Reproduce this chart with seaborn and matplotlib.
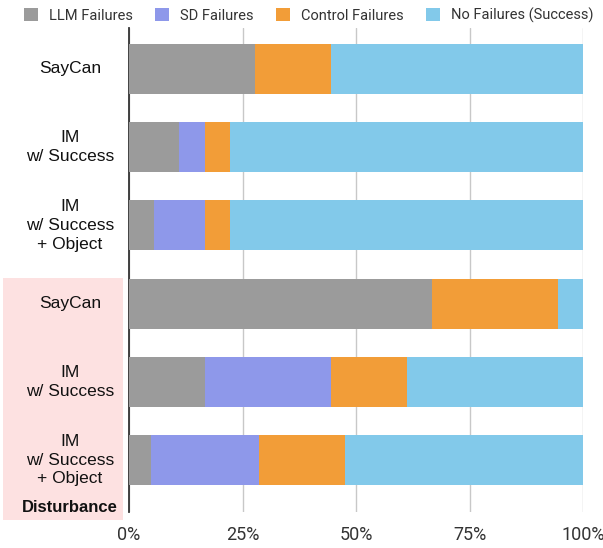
import pandas as pd
import matplotlib.pyplot as plt
import seaborn as sns
from matplotlib.patches import Rectangle, Patch
from matplotlib.ticker import PercentFormatter

methods = ["SayCan", "IM\nw/ Success", "IM\nw/ Success\n+ Object",
           "SayCan ", "IM\nw/ Success ", "IM\nw/ Success\n+ Object "]
series = ["LLM Failures", "SD Failures", "Control Failures", "No Failures (Success)"]
llm_fail = [27.8, 11.1, 5.6, 66.7, 16.7, 4.8]
sd_fail = [0.0, 5.6, 11.1, 0.0, 27.8, 23.8]
control_fail = [16.7, 5.6, 5.6, 27.8, 16.7, 19.0]
success = [55.6, 77.8, 77.8, 5.6, 38.9, 52.4]
colors = ["#9b9b9b", "#8e98ea", "#f29d38", "#82c9ea"]

df = pd.DataFrame({"method": methods, series[0]: llm_fail, series[1]: sd_fail,
                   series[2]: control_fail, series[3]: success})
cum = df[series].cumsum(axis=1)
cum["method"] = df["method"]

sns.set_style("white")
plt.rcParams['font.family'] = ['Roboto', 'DejaVu Sans']
label_font = ["Liberation Sans", "DejaVu Sans"]

fig = plt.figure(figsize=(6.03, 5.48), dpi=100)
fig.patches.append(Rectangle((0.005, 0.051), 0.199, 0.442, transform=fig.transFigure,
                             facecolor="#fde1e1", edgecolor="none", zorder=-5))
ax = fig.add_axes([0.214, 0.0657, 0.753, 0.883])
ax.patch.set_alpha(0)

# draw from the full stack back to the first segment so each sits on top
for s, c in reversed(list(zip(series, colors))):
    sns.barplot(data=cum, x=s, y="method", orient="h", color=c, width=0.64,
                saturation=1, ax=ax, zorder=3, linewidth=0)

ax.set_xlim(0, 100)
ax.set_ylim(5.66, -0.52)
ax.set_xticks([0, 25, 50, 75, 100])
ax.xaxis.set_major_formatter(PercentFormatter(decimals=0))
ax.grid(axis="x", color="#c8c8c8", linewidth=1, zorder=0)
ax.set_xlabel("")
ax.set_ylabel("")
ax.set_yticks(range(len(methods)))
ax.set_yticklabels([])
ax.tick_params(axis="y", length=0)
ax.tick_params(axis="x", length=3, color="#c8c8c8", labelsize=13, pad=7,
               labelcolor="#333333")
for sp in ["top", "right", "bottom"]:
    ax.spines[sp].set_visible(False)
ax.spines["left"].set_color("#333333")
ax.spines["left"].set_linewidth(1.3)

for i, m in enumerate(methods):
    ax.text(-0.13, i, m.strip(), transform=ax.get_yaxis_transform(), ha="center",
            va="center", fontsize=12.5, family=label_font,
            color="#111111", linespacing=1.3)
fig.text(0.116, 1 - 507 / 548, "Disturbance", ha="center", va="center", fontsize=12,
         fontweight="bold", family=label_font, color="#111111")

handles = [Patch(facecolor=c, edgecolor="none") for c in colors]
fig.legend(handles, series, loc="center", bbox_to_anchor=(0.512, 0.972), ncol=4,
           frameon=False, fontsize=10.5, handlelength=1.0, handleheight=1.0,
           handletextpad=0.75, columnspacing=1.5, labelcolor="#333333",
           borderpad=0.2)

fig.savefig("out.png", dpi=100)
